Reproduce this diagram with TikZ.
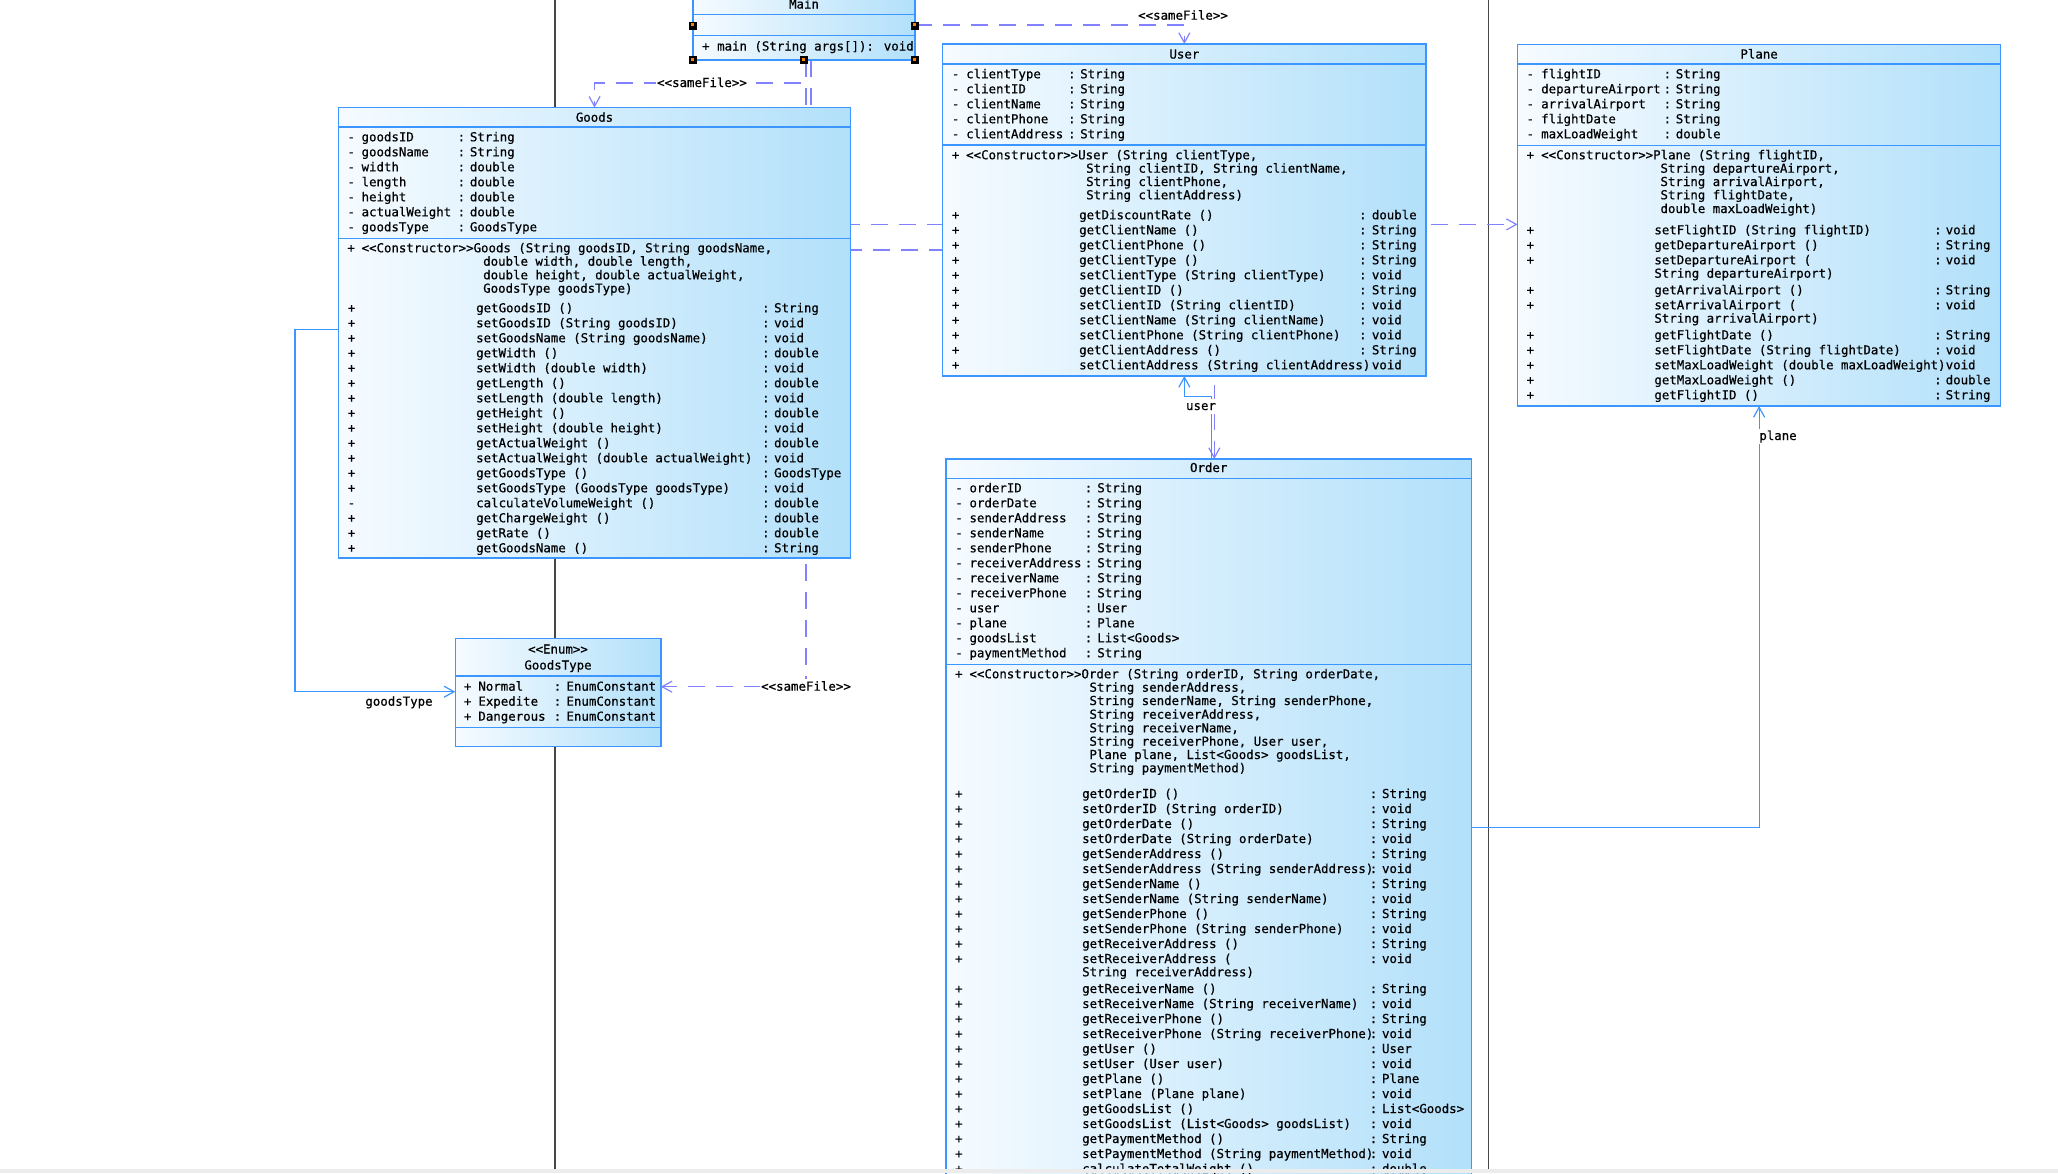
\documentclass[tikz,border=0pt]{standalone}
\usepackage{fontspec}
\newfontfamily\clsfont{DejaVu Sans Mono}[FakeBold=0.6]
\usetikzlibrary{arrows.meta}
\pgfdeclarelayer{bg}
\pgfsetlayers{bg,main}
\definecolor{bordc}{RGB}{60,150,255}
\definecolor{depc}{RGB}{130,130,255}
\definecolor{cl}{RGB}{246,251,255}
\definecolor{cd}{RGB}{178,224,250}
\definecolor{pagec}{RGB}{70,70,70}
\newcommand\tsz{\clsfont\fontsize{12.4}{15}\selectfont}
\newcommand\classrows[6]{%
  \foreach \yy/\sg/\nm/\cln/\ty [count=\i] in {#6} {%
    \node[txt] (#1-\i-a) at (#2,\yy) {\sg};
    \node[txt] (#1-\i-b) at (#3,\yy) {\nm};
    \node[txt] (#1-\i-c) at (#4,\yy) {\cln};
    \node[txt] (#1-\i-d) at (#5,\yy) {\ty};
  }}
\newcommand\contlines[3]{%
  \foreach \yy/\tx [count=\i] in {#3} {%
    \node[txt] (#1-\i) at (#2,\yy) {\tx};
  }}
\begin{document}
\begin{tikzpicture}[x=1pt,y=-1pt,
  txt/.style={font=\tsz, anchor=west, inner sep=0pt, text height=10pt, text depth=2pt},
  ttl/.style={font=\tsz, inner sep=0pt, text height=10pt, text depth=2pt},
  comp/.style={draw=bordc, line width=1.5pt, left color=cl, right color=cd, inner sep=0pt, outer sep=0pt, anchor=north west, shape=rectangle},
  dep/.style={draw=depc, line width=1.2pt, dash pattern=on 17pt off 11pt, -{Straight Barb[length=10pt,width=11pt]}},
  assoc/.style={draw=bordc, line width=1.2pt, -{Straight Barb[length=10pt,width=11pt]}},
  lbl/.style={font=\tsz, inner sep=1.5pt, fill=white, text height=10pt, text depth=2pt},
  pageline/.style={draw=pagec, line width=1.5pt}]
\useasboundingbox (0,0) rectangle (2058,1173);
\begin{pgfonlayer}{bg}
\fill[white] (0,0) rectangle (2058,1173);
\draw[pageline] (555.2,0) -- (555.2,1173);
\draw[pageline] (1488.4,0) -- (1488.4,1173);
\end{pgfonlayer}

% ---------- Main ----------
\node[comp, minimum width=222pt, minimum height=17.7pt] (main-t) at (693,-3) {};
\node[comp, minimum width=222pt, minimum height=20.6pt] (main-a) at (693,14.7) {};
\node[comp, minimum width=222pt, minimum height=24.7pt] (main-m) at (693,35.3) {};
\node[ttl] (main-name) at (804,4.5) {Main};
\node[txt] (main-op) at (702,46.5) {+ main (String args[]): void};
\foreach \hx/\hy in {693/25.7, 915/25.7, 693/60, 804/60, 915/60} {
  \fill[black] (\hx-4,\hy-4) rectangle (\hx+4,\hy+4);
  \fill[orange] (\hx-2.5,\hy-2.5) rectangle (\hx+0.5,\hy+0.5);
}

% ---------- Goods ----------
\node[comp, minimum width=511.9pt, minimum height=19.4pt] (goods-t) at (338.6,107.6) {};
\node[comp, minimum width=511.9pt, minimum height=111.5pt] (goods-a) at (338.6,127) {};
\node[comp, minimum width=511.9pt, minimum height=319.3pt] (goods-m) at (338.6,238.5) {};
\node[ttl] (goods-name) at (594.5,117.7) {Goods};
\classrows{ga}{347.2}{361.4}{457.4}{469.7}{
 137.3/-/goodsID/:/String, 152.3/-/goodsName/:/String, 167.3/-/width/:/double,
 182.3/-/length/:/double, 197.3/-/height/:/double, 212.3/-/actualWeight/:/double,
 227.3/-/goodsType/:/GoodsType}
\node[txt] (gc-s) at (347.2,248.3) {+};
\node[txt] (gc-0) at (361.4,248.3) {<<Constructor>>Goods (String goodsID, String goodsName,};
\contlines{gc}{483}{261.7/{double width, double length,}, 275.3/{double height, double actualWeight,}, 288.7/{GoodsType goodsType)}}
\classrows{gm}{347.6}{476}{762}{773.9}{
 308.3/+/{getGoodsID ()}/:/String,
 323.3/+/{setGoodsID (String goodsID)}/:/void,
 338.3/+/{setGoodsName (String goodsName)}/:/void,
 353.3/+/{getWidth ()}/:/double,
 368.3/+/{setWidth (double width)}/:/void,
 383.3/+/{getLength ()}/:/double,
 398.3/+/{setLength (double length)}/:/void,
 413.3/+/{getHeight ()}/:/double,
 428.3/+/{setHeight (double height)}/:/void,
 443.3/+/{getActualWeight ()}/:/double,
 458.3/+/{setActualWeight (double actualWeight)}/:/void,
 473.3/+/{getGoodsType ()}/:/GoodsType,
 488.3/+/{setGoodsType (GoodsType goodsType)}/:/void,
 503.3/-/{calculateVolumeWeight ()}/:/double,
 518.3/+/{getChargeWeight ()}/:/double,
 533.3/+/{getRate ()}/:/double,
 548.3/+/{getGoodsName ()}/:/String}

% ---------- GoodsType ----------
\node[comp, minimum width=205.5pt, minimum height=37.3pt] (gt-t) at (455.3,638.7) {};
\node[comp, minimum width=205.5pt, minimum height=51.3pt] (gt-a) at (455.3,676) {};
\node[comp, minimum width=205.5pt, minimum height=19.4pt] (gt-m) at (455.3,727.3) {};
\node[ttl] (gt-st) at (558,649.5) {<<Enum>>};
\node[ttl] (gt-name) at (558,665.5) {GoodsType};
\classrows{gta}{463.7}{478.2}{553.6}{566.3}{
 686.7/+/Normal/:/EnumConstant, 701.7/+/Expedite/:/EnumConstant, 716.7/+/Dangerous/:/EnumConstant}

% ---------- User ----------
\node[comp, minimum width=483.3pt, minimum height=20pt] (user-t) at (942.7,44) {};
\node[comp, minimum width=483.3pt, minimum height=81pt] (user-a) at (942.7,64) {};
\node[comp, minimum width=483.3pt, minimum height=231pt] (user-m) at (942.7,145) {};
\node[ttl] (user-name) at (1184.4,54.5) {User};
\classrows{ua}{951.7}{966}{1068}{1080}{
 74.3/-/clientType/:/String, 89.3/-/clientID/:/String, 104.3/-/clientName/:/String,
 119.3/-/clientPhone/:/String, 134.3/-/clientAddress/:/String}
\node[txt] (uc-s) at (951.7,155.3) {+};
\node[txt] (uc-0) at (966,155.3) {<<Constructor>>User (String clientType,};
\contlines{uc}{1086}{168.7/{String clientID, String clientName,}, 182/{String clientPhone,}, 195.3/{String clientAddress)}}
\classrows{um}{951.7}{1079}{1359}{1371.7}{
 215.3/+/{getDiscountRate ()}/:/double,
 230.3/+/{getClientName ()}/:/String,
 245.3/+/{getClientPhone ()}/:/String,
 260.3/+/{getClientType ()}/:/String,
 275.3/+/{setClientType (String clientType)}/:/void,
 290.3/+/{getClientID ()}/:/String,
 305.3/+/{setClientID (String clientID)}/:/void,
 320.3/+/{setClientName (String clientName)}/:/void,
 335.3/+/{setClientPhone (String clientPhone)}/:/void,
 350.3/+/{getClientAddress ()}/:/String,
 365.3/+/{setClientAddress (String clientAddress)}/{}/void}

% ---------- Plane ----------
\node[comp, minimum width=483pt, minimum height=19.3pt] (plane-t) at (1517.6,44.7) {};
\node[comp, minimum width=483pt, minimum height=81.3pt] (plane-a) at (1517.6,64) {};
\node[comp, minimum width=483pt, minimum height=260.7pt] (plane-m) at (1517.6,145.3) {};
\node[ttl] (plane-name) at (1759.1,54.5) {Plane};
\classrows{pa}{1526.4}{1541}{1663.4}{1675.6}{
 74.3/-/flightID/:/String, 89.3/-/departureAirport/:/String, 104.3/-/arrivalAirport/:/String,
 119.3/-/flightDate/:/String, 134.3/-/maxLoadWeight/:/double}
\node[txt] (pc-s) at (1526.4,155.3) {+};
\node[txt] (pc-0) at (1541,155.3) {<<Constructor>>Plane (String flightID,};
\contlines{pc}{1660.3}{168.7/{String departureAirport,}, 182/{String arrivalAirport,}, 195.3/{String flightDate,}, 209/{double maxLoadWeight)}}
\classrows{pm}{1526.4}{1654.2}{1934}{1945.5}{
 230.3/+/{setFlightID (String flightID)}/:/void,
 245.3/+/{getDepartureAirport ()}/:/String,
 260.3/+/{setDepartureAirport (}/:/void,
 273.7/{}/{String departureAirport)}/{}/{},
 290.3/+/{getArrivalAirport ()}/:/String,
 305.3/+/{setArrivalAirport (}/:/void,
 318.7/{}/{String arrivalAirport)}/{}/{},
 335.3/+/{getFlightDate ()}/:/String,
 350.3/+/{setFlightDate (String flightDate)}/:/void,
 365.3/+/{setMaxLoadWeight (double maxLoadWeight)}/{}/void,
 380.3/+/{getMaxLoadWeight ()}/:/double,
 395.3/+/{getFlightID ()}/:/String}

% ---------- Order ----------
\node[comp, minimum width=525.4pt, minimum height=19.3pt] (order-t) at (946,459) {};
\node[comp, minimum width=525.4pt, minimum height=186pt] (order-a) at (946,478.3) {};
\node[comp, minimum width=525.4pt, minimum height=540pt] (order-m) at (946,664.3) {};
\node[ttl] (order-name) at (1208.7,468) {Order};
\classrows{oa}{955}{969.3}{1084.6}{1097.1}{
 488.3/-/orderID/:/String, 503.3/-/orderDate/:/String, 518.3/-/senderAddress/:/String,
 533.3/-/senderName/:/String, 548.3/-/senderPhone/:/String, 563.3/-/receiverAddress/:/String,
 578.3/-/receiverName/:/String, 593.3/-/receiverPhone/:/String, 608.3/-/user/:/User,
 623.3/-/plane/:/Plane, 638.3/-/goodsList/:/List<Goods>, 653.3/-/paymentMethod/:/String}
\node[txt] (oc-s) at (955,674.3) {+};
\node[txt] (oc-0) at (969.3,674.3) {<<Constructor>>Order (String orderID, String orderDate,};
\contlines{oc}{1089.3}{687.7/{String senderAddress,}, 701/{String senderName, String senderPhone,},
 714.7/{String receiverAddress,}, 728.3/{String receiverName,}, 741.7/{String receiverPhone, User user,},
 755/{Plane plane, List<Goods> goodsList,}, 768.3/{String paymentMethod)}}
\classrows{om}{955}{1082}{1369.6}{1381.8}{
 794/+/{getOrderID ()}/:/String,
 809/+/{setOrderID (String orderID)}/:/void,
 824/+/{getOrderDate ()}/:/String,
 839/+/{setOrderDate (String orderDate)}/:/void,
 854/+/{getSenderAddress ()}/:/String,
 869/+/{setSenderAddress (String senderAddress)}/:/void,
 884/+/{getSenderName ()}/:/String,
 899/+/{setSenderName (String senderName)}/:/void,
 914/+/{getSenderPhone ()}/:/String,
 929/+/{setSenderPhone (String senderPhone)}/:/void,
 944/+/{getReceiverAddress ()}/:/String,
 959/+/{setReceiverAddress (}/:/void,
 972.3/{}/{String receiverAddress)}/{}/{},
 989/+/{getReceiverName ()}/:/String,
 1004/+/{setReceiverName (String receiverName)}/:/void,
 1019/+/{getReceiverPhone ()}/:/String,
 1034/+/{setReceiverPhone (String receiverPhone)}/:/void,
 1049/+/{getUser ()}/:/User,
 1064/+/{setUser (User user)}/:/void,
 1079/+/{getPlane ()}/:/Plane,
 1094/+/{setPlane (Plane plane)}/:/void,
 1109/+/{getGoodsList ()}/:/List<Goods>,
 1124/+/{setGoodsList (List<Goods> goodsList)}/:/void,
 1139/+/{getPaymentMethod ()}/:/String,
 1154/+/{setPaymentMethod (String paymentMethod)}/:/void,
 1169/+/{calculateTotalWeight ()}/:/double}

% ---------- connectors ----------
\coordinate (mg1) at (806,83);
\coordinate (mgt) at (806,686.7);
\coordinate (mo1) at (811,250);
\coordinate (mo2) at (1214.3,250);
\coordinate (mp1) at (811,224.4);
\coordinate (ou1) at (1211.7,396.7);
\coordinate (op1) at (1600,827.3);
\coordinate (gg1) at (295,329.4);
\coordinate (gg2) at (295,691.7);
\begin{pgfonlayer}{bg}
\draw[dep] (main-a.east) -| (user-t.north);
\draw[dep] (main-m.south -| mg1) -- (mg1) -| (goods-t.north);
\draw[dep] (main-m.south -| mgt) -- (mgt) -- (gt-a.east |- mgt);
\draw[dep] (main-m.south -| mo1) -- (mo1) -- (mo2) -- (order-t.north -| mo2);
\draw[dep] (main-m.south -| mp1) -- (mp1) -- (plane-m.west |- mp1);
\draw[assoc] (order-t.north -| ou1) -- (ou1) -| (user-m.south);
\draw[assoc] (order-m.east |- op1) -| (plane-m.south);
\draw[assoc] (goods-m.west |- gg1) -- (gg1) -- (gg2) -- (gt-a.west |- gg2);
\end{pgfonlayer}
\node[lbl] (lab-mu) at (1183,15.7) {<<sameFile>>};
\node[lbl] (lab-mg) at (702,83) {<<sameFile>>};
\node[lbl] (lab-mgt) at (806,686.7) {<<sameFile>>};
\node[lbl] (lab-user) at (1201,406) {user};
\node[lbl] (lab-plane) at (1778,436) {plane};
\node[lbl, fill=none] (lab-gt) at (399,701.7) {goodsType};
\fill[gray!15] (0,1169) rectangle (2058,1173);
\end{tikzpicture}
\end{document}
